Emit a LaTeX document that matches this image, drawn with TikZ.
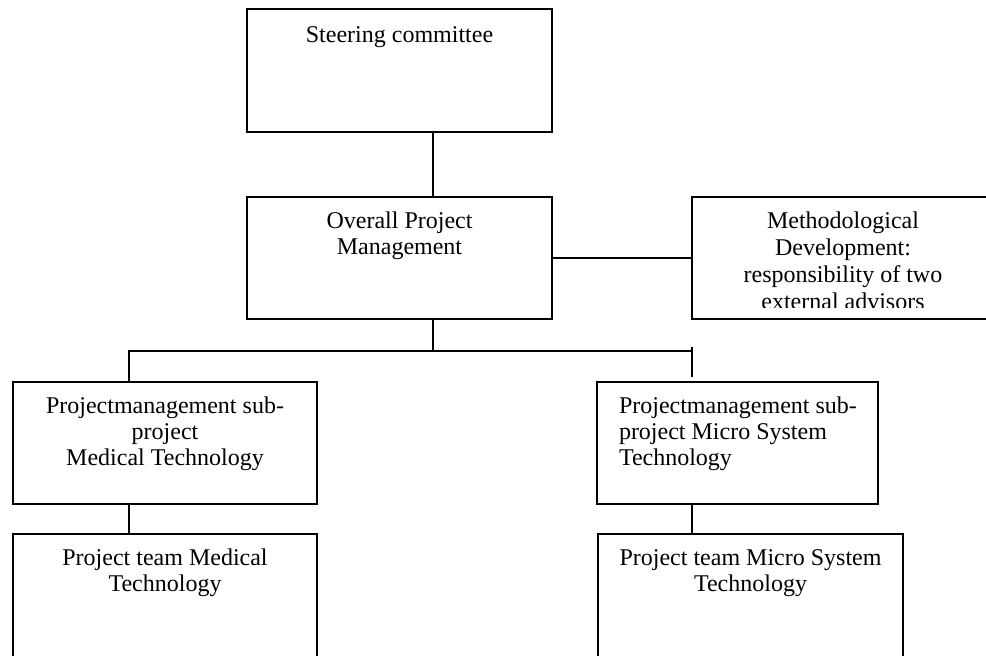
\documentclass[tikz,border=0pt]{standalone}
\usepackage{fontspec}
\setmainfont{Liberation Serif}
\usetikzlibrary{calc}
\begin{document}
\begin{tikzpicture}[x=0.75pt,y=-0.75pt,
  box/.style={draw, line width=1.3pt, inner sep=0pt, outer sep=0pt, anchor=north west},
  txt/.style={inner sep=0pt, outer sep=0pt, anchor=north, align=center,
              font=\fontsize{18}{19.5}\selectfont, execute at begin node=\strut},
  link/.style={line width=1.3pt}]
\useasboundingbox (0,0) rectangle (986,656);
\clip (0,0) rectangle (986,656);

% organisation boxes
\node[box, minimum width=228.75pt, minimum height=92.25pt] (steer)    at (247,9)   {};
\node[box, minimum width=228.75pt, minimum height=91.5pt]  (overall)  at (247,197) {};
\node[box, minimum width=226.5pt,  minimum height=91.5pt]  (method)   at (692,197) {};
\node[box, minimum width=228pt,    minimum height=91.5pt]  (leftsub)  at (13,382)  {};
\node[box, minimum width=210.75pt, minimum height=91.5pt]  (rightsub) at (597,382) {};
\node[box, minimum width=228pt,    minimum height=109.5pt] (leftteam) at (13,534)  {};
\node[box, minimum width=228.75pt, minimum height=109.5pt] (rightteam) at (598,534) {};

% box texts
\node[txt] (steer-t)   at ($(steer.north)+(0,15.3)$)   {Steering committee};
\node[txt] (overall-t) at ($(overall.north)+(0,15.3)$) {Overall Project\\Management};
% the text of this box runs past its lower inner edge and is cut off there
\begin{scope}
  \clip (method.north west) rectangle ($(method.south east)+(0,-12)$);
  \node[txt, font=\fontsize{18}{20.2}\selectfont] (method-t) at ($(method.north)+(0,15.3)$)
    {Methodological\\Development:\\responsibility of two\\external advisors};
\end{scope}
\node[txt] (leftsub-t) at ($(leftsub.north)+(0,15.3)$)
  {Projectmanagement sub-\\project\\Medical Technology};
\node[txt, anchor=north west, align=left] (rightsub-t) at ($(rightsub.north west)+(22,15.3)$)
  {Projectmanagement sub-\\project Micro System\\Technology};
\node[txt] (leftteam-t) at ($(leftteam.north)+(0,15.3)$)
  {Project team Medical\\Technology};
\node[txt] (rightteam-t) at ($(rightteam.north)+(0,15.3)$)
  {Project team Micro System\\Technology};

% connector junctions
\coordinate (hub) at (433,351);
\coordinate (lbr) at (129,351);
\coordinate (rbr) at (692,351);
\coordinate (rtip) at (692,377);

% connectors
\draw[link] (steer.south -| hub) -- (overall.north -| hub);
\draw[link] (overall.south -| hub) -- (hub);
\draw[link] (overall.east) -- (method.west);
\draw[link] (lbr |- leftsub.north) -- (lbr) -- (rbr);
\draw[link] ($(rbr)+(0,-4)$) -- (rtip);
\draw[link] (lbr |- leftsub.south) -- (lbr |- leftteam.north);
\draw[link] (rbr |- rightsub.south) -- (rbr |- rightteam.north);
\end{tikzpicture}
\end{document}
